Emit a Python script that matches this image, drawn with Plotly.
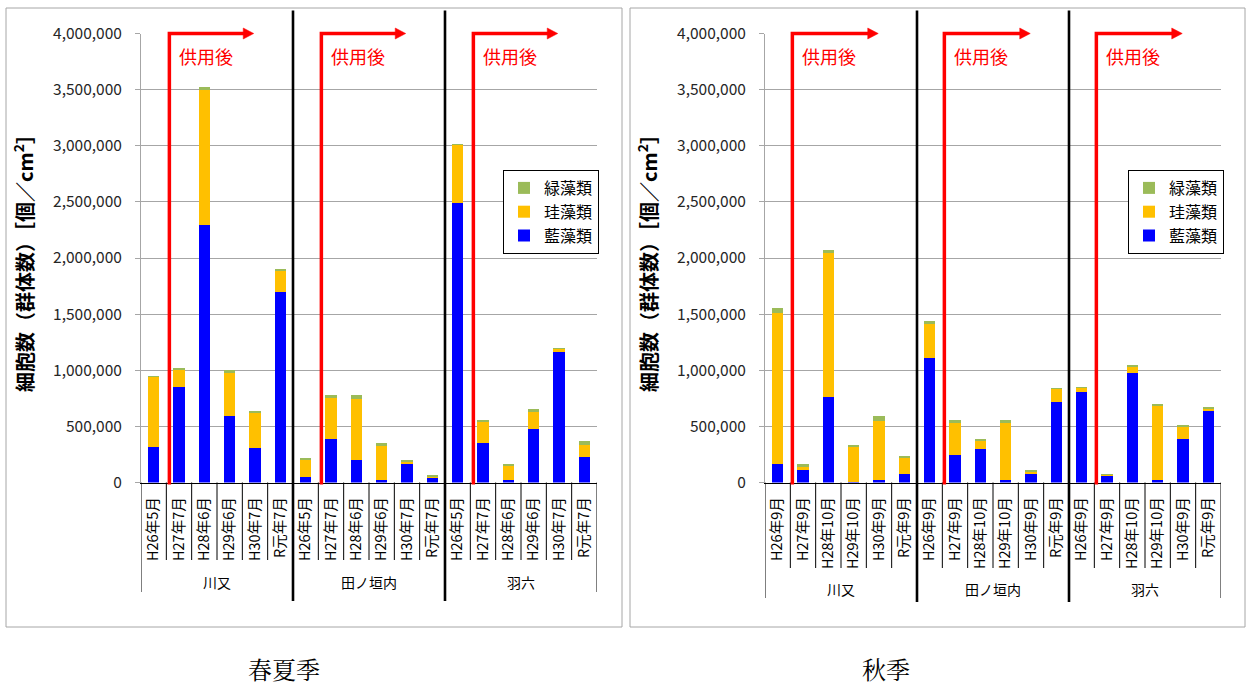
import plotly.graph_objects as go

# ---------------- data ----------------
sites = ["川又", "田ノ垣内", "羽六"]
spring_dates = ["H26年5月", "H27年7月", "H28年6月", "H29年6月", "H30年7月", "R元年7月"]
autumn_dates = ["H26年9月", "H27年9月", "H28年10月", "H29年10月", "H30年9月", "R元年9月"]
series_names = ["藍藻類", "珪藻類", "緑藻類"]
series_colors = ["#0000FF", "#FFC000", "#9BBB59"]

# 春夏季 (order: 川又 x6, 田ノ垣内 x6, 羽六 x6)
spring_blue = [312000, 855000, 2295000, 594000, 309000, 1699000,
               45000, 389000, 199000, 22000, 178000, 40000,
               2486000, 356000, 22000, 475000, 1167000, 226000]
spring_diatom = [635000, 155000, 1212000, 380000, 318000, 181000,
                 166000, 377000, 546000, 311000, 12000, 20000,
                 531000, 190000, 121000, 166000, 30000, 107000]
spring_green = [3000, 11000, 15000, 24000, 11000, 23000,
                9000, 15000, 39000, 17000, 9000, 3000,
                3000, 12000, 23000, 15000, 2000, 35000]

# 秋季
autumn_blue = [166000, 107000, 760000, 5000, 22000, 80000,
               1105000, 246000, 297000, 22000, 80000, 713000,
               808000, 56000, 974000, 22000, 392000, 641000]
autumn_diatom = [1343000, 44000, 1286000, 319000, 524000, 143000,
                 320000, 297000, 74000, 521000, 24000, 127000,
                 44000, 21000, 68000, 667000, 107000, 21000]
autumn_green = [47000, 15000, 24000, 9000, 48000, 15000,
                15000, 15000, 18000, 15000, 3000, 3000,
                3000, 3000, 3000, 12000, 12000, 12000]

y_ticks = [0, 500000, 1000000, 1500000, 2000000, 2500000, 3000000, 3500000, 4000000]
y_title = "<b>細胞数（群体数）［個／cm<sup>2</sup>］</b>"
mark_text = "供用後"
season_titles = ["春夏季", "秋季"]

# ---------------- layout helpers ----------------
W, H = 1251, 686
FONT = "Noto Sans CJK JP, Noto Sans, sans-serif"


def fx(p):
    return p / W


def fy(p):
    return 1 - p / H


PLOT_TOP, PLOT_BOTTOM = 33.5, 482.5
CAT_PX = 456 / 18.0
panels = [
    dict(dates=spring_dates, values=[spring_blue, spring_diatom, spring_green],
         x0=141, x1=597, legend_x=503, border=(6, 622), caption_x=284,
         red_off=0.62, tip_off=3.95, text_off=0.93,
         sep_end=560, site_y=582, outer_end=592, thick_end=601),
    dict(dates=autumn_dates, values=[autumn_blue, autumn_diatom, autumn_green],
         x0=765, x1=1221, legend_x=1128, border=(630, 1245), caption_x=886,
         red_off=0.58, tip_off=3.97, text_off=0.9,
         sep_end=568, site_y=589, outer_end=598, thick_end=602),
]

fig = go.Figure()
shapes = []
annotations = []
n_per = len(spring_dates)
n_cat = n_per * len(sites)

for p_i, pan in enumerate(panels):
    ax_suffix = "" if p_i == 0 else str(p_i + 1)
    xref = "x" + ax_suffix
    yref = "y" + ax_suffix
    legend_name = "legend" if p_i == 0 else "legend2"

    labels = [d for s in sites for d in pan["dates"]]
    idx = list(range(len(labels)))

    for s_i, name in enumerate(series_names):
        fig.add_trace(go.Bar(
            x=idx, y=pan["values"][s_i], name=name,
            marker=dict(color=series_colors[s_i], line=dict(width=0)),
            xaxis=xref, yaxis=yref, legend=legend_name,
            width=0.44, showlegend=True,
        ))

    xa = dict(domain=[fx(pan["x0"]), fx(pan["x1"])], range=[-0.5, n_cat - 0.5],
              tickmode="array", tickvals=idx, ticktext=labels, tickangle=-90,
              tickfont=dict(family=FONT, size=14.5, color="#000000"),
              showgrid=False, zeroline=False, showline=True, linecolor="#000000",
              linewidth=1, ticks="", ticklabelstandoff=8, anchor=yref,
              fixedrange=True, automargin=False)
    ya = dict(domain=[fy(PLOT_BOTTOM), fy(PLOT_TOP)], range=[0, 4000000],
              tickmode="array", tickvals=y_ticks, tickformat=",",
              tickfont=dict(family=FONT, size=15.5, color="#262626"),
              showgrid=True, gridcolor="#A6A6A6", gridwidth=1.2,
              zeroline=False, showline=True, linecolor="#A6A6A6", linewidth=1,
              ticks="outside", ticklen=5, tickcolor="#A6A6A6",
              ticklabelstandoff=10, anchor=xref, fixedrange=True, automargin=False,
              title=dict(text=y_title, font=dict(family=FONT, size=20, color="#000000"),
                         standoff=14))
    fig.update_layout(**{"xaxis" + ax_suffix: xa, "yaxis" + ax_suffix: ya})

    # legend
    fig.update_layout(**{legend_name: dict(
        x=fx(pan["legend_x"]), y=fy(170), xanchor="left", yanchor="top",
        bordercolor="#000000", borderwidth=1, bgcolor="#FFFFFF",
        font=dict(family=FONT, size=16, color="#000000"),
        traceorder="reversed", itemwidth=30, tracegroupgap=0,
    )})

    # panel border
    bx0, bx1 = pan["border"]
    shapes.append(dict(type="rect", xref="paper", yref="paper",
                       x0=fx(bx0), x1=fx(bx1), y0=fy(627), y1=fy(8),
                       line=dict(color="#A6A6A6", width=1), layer="below"))

    # category cell separators
    for b in range(n_cat + 1):
        xb = b - 0.5
        if b in (0, n_cat):
            y_end = pan["outer_end"]
            width = 1
            y_start = PLOT_BOTTOM
        elif b % n_per == 0:
            y_end = pan["thick_end"]
            width = 2.6
            y_start = 10.5
        else:
            y_end = pan["sep_end"]
            width = 1
            y_start = PLOT_BOTTOM
        shapes.append(dict(type="line", xref=xref, yref="paper",
                           x0=xb, x1=xb, y0=fy(y_start), y1=fy(y_end),
                           line=dict(color="#000000", width=width), layer="above"))

    # site labels
    for g, site in enumerate(sites):
        annotations.append(dict(text=site, xref=xref, yref="paper",
                                x=g * n_per + (n_per - 1) / 2, y=fy(pan["site_y"]),
                                showarrow=False, xanchor="center", yanchor="middle",
                                font=dict(family=FONT, size=14, color="#000000")))

        # red "after operation" marker: L-shaped line + arrowhead
        gx = g * n_per
        tip = gx + pan["tip_off"]
        head_len = 10.5 / CAT_PX
        shapes.append(dict(type="path", xref=xref, yref="paper",
                           path=f"M {gx + pan['red_off']},{fy(484.5)} "
                                f"L {gx + pan['red_off']},{fy(PLOT_TOP)} "
                                f"L {tip - head_len + 0.05},{fy(PLOT_TOP)}",
                           line=dict(color="#FF0000", width=3.5), layer="above"))
        shapes.append(dict(type="path", xref=xref, yref="paper",
                           path=f"M {tip - head_len},{fy(PLOT_TOP - 5.5)} "
                                f"L {tip},{fy(PLOT_TOP)} "
                                f"L {tip - head_len},{fy(PLOT_TOP + 5.5)} Z",
                           fillcolor="#FF0000", line=dict(color="#FF0000", width=0.5),
                           layer="above"))
        annotations.append(dict(text=mark_text, xref=xref, yref=yref,
                                x=gx + pan["text_off"], y=3800000,
                                xanchor="left", yanchor="middle", showarrow=False,
                                font=dict(family=FONT, size=18, color="#FF0000")))

    # season caption
    annotations.append(dict(text=season_titles[p_i], xref="paper", yref="paper",
                            x=fx(pan["caption_x"]), y=fy(668), showarrow=False,
                            xanchor="center", yanchor="middle",
                            font=dict(family="Noto Serif CJK JP, Noto Sans CJK JP, serif",
                                      size=24, color="#000000")))

fig.update_layout(
    width=W, height=H,
    margin=dict(l=0, r=0, t=0, b=0, pad=0, autoexpand=False),
    paper_bgcolor="#FFFFFF", plot_bgcolor="#FFFFFF",
    barmode="stack", bargap=0.56,
    font=dict(family=FONT, color="#000000"),
    shapes=shapes, annotations=annotations,
)

fig.write_html("out.html", config={"displayModeBar": False},
               post_script="document.body.style.margin='0';")
